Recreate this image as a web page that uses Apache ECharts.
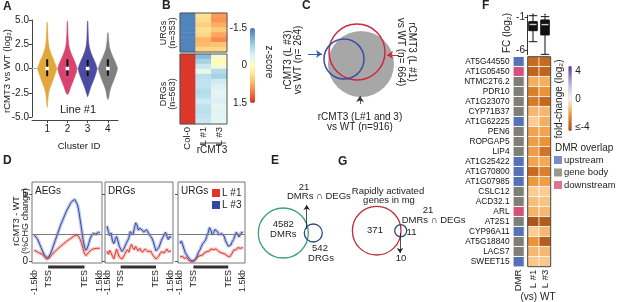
<!DOCTYPE html>
<html>
<head>
<meta charset="utf-8">
<script src="https://cdn.jsdelivr.net/npm/echarts@6/dist/echarts.min.js"></script>
<style>
html,body{margin:0;padding:0;background:#fff;}
#main{width:617px;height:302px;}
</style>
</head>
<body>
<div id="main"></div>
<script>
var FONT = '"Liberation Sans", Arial, Helvetica, sans-serif';

/* A - violin */
var clusterIds = [1, 2, 3, 4];
var violinLevels = [-5, -4.5, -4, -3.5, -3, -2.5, -2, -1.5, -1, -0.5, 0, 0.5, 1, 1.5, 2, 2.5, 3, 3.5, 4, 4.5, 5];
var violinDens1 = [0, 0, 0.03, 0.06, 0.1, 0.17, 0.3, 0.5, 0.68, 0.86, 1.0, 0.84, 0.64, 0.42, 0.25, 0.15, 0.1, 0.08, 0.06, 0.04, 0];
var violinDens2 = [0, 0, 0, 0, 0, 0.15, 0.32, 0.52, 0.72, 0.9, 1.0, 0.86, 0.64, 0.42, 0.24, 0.14, 0.1, 0.07, 0.05, 0.04, 0];
var violinDens3 = [0, 0, 0, 0, 0, 0.14, 0.3, 0.5, 0.7, 0.88, 0.98, 0.84, 0.62, 0.4, 0.23, 0.13, 0.09, 0.07, 0.05, 0.04, 0];
var violinDens4 = [0, 0, 0, 0.05, 0.09, 0.17, 0.3, 0.5, 0.7, 0.88, 1.0, 0.85, 0.62, 0.4, 0.22, 0.13, 0.08, 0.05, 0, 0, 0];
var violinMin = [-4.0, -2.7, -2.9, -3.2];
var violinMax = [4.8, 4.9, 4.9, 3.7];
var boxQ1 = [-0.8, -0.75, -0.8, -0.75];
var boxMed = [0, 0, 0, 0];
var boxQ3 = [0.95, 0.95, 0.9, 0.95];

/* B - z-score heatmap */
var heatCols = ['Col-0', 'L #1', 'L #3'];
var urgCol0 = [-1.4, -1.4, -1.4, -1.4, -1.4, -1.4, -1.4, -1.4];
var urgL1 = [0.35, 0.4, 0.5, 0.4, 0.45, 0.7, 0.65, 0.45];
var urgL3 = [0.85, 0.9, 0.75, 0.55, 0.8, 0.95, 0.6, 0.45];
var drgCol0 = [1.45, 1.45, 1.45, 1.45, 1.45, 1.45, 1.45, 1.45, 1.45, 1.45, 1.45, 1.45, 1.45, 1.45];
var drgL1 = [-1.0, -0.8, -0.55, -0.25, -0.65, -0.6, -0.6, -0.7, -0.65, -0.5, -0.6, -0.65, -0.6, -0.55];
var drgL3 = [-0.15, 0.05, -0.1, -0.7, -0.8, -0.5, -0.4, -0.3, -0.35, -0.4, -0.3, -0.35, -0.35, -0.3];
var urgCount = 353, drgCount = 563;

/* C, E, G - venn circles [cx, cy, r] */
var vennC = [[61, 54, 33], [57, 42, 28], [44, 49, 20]];
var vennCCounts = [916, 664, 264];
var vennE = [[33.3, 33, 25], [63.3, 33, 9]];
var vennECounts = [4582, 542, 21];
var vennG = [[36.7, 30.7, 24.3], [60.7, 30.7, 6]];
var vennGCounts = [371, 11, 10, 21];

/* D - CHG profiles */
var profX = [3, 5, 7, 9, 11, 13, 15, 17, 19, 21, 23, 25, 27, 29, 31, 33, 35, 37, 39, 41, 43, 45, 47, 49,
             51, 53, 55, 57, 59, 61, 63, 65, 67, 69, 71, 73, 75, 77, 79, 81, 83, 85, 87, 89, 91, 93, 95, 97];
var profTicks = [3, 23, 75, 97];
var profTickLabels = ['-1.5kb', 'TSS', 'TES', '1.5kb'];
var geneBody = [23, 75];
var aegL1 = [0.8, 0.75, 0.7, 0.62, 0.58, 0.6, 0.5, 0.35, 0.22, 0.12, 0.12, 0.25, 0.38, 0.5, 0.62, 0.72, 0.82, 0.92, 1.0, 1.1, 1.2, 1.28, 1.37, 1.45,
             1.52, 1.6, 1.68, 1.75, 1.8, 1.9, 1.98, 1.95, 1.85, 1.6, 1.3, 0.9, 0.55, 0.4, 0.5, 0.65, 0.78, 0.85, 0.9, 0.92, 0.9, 0.95, 0.98, 0.95];
var aegL3 = [1.95, 1.85, 1.7, 1.5, 1.25, 1.0, 0.75, 0.52, 0.35, 0.25, 0.22, 0.35, 0.6, 0.9, 1.2, 1.5, 1.8, 2.1, 2.4, 2.7, 2.95, 3.2, 3.45, 3.7,
             3.9, 4.1, 4.3, 4.45, 4.55, 4.6, 4.5, 4.2, 3.7, 3.0, 2.3, 1.6, 1.05, 0.8, 0.95, 1.3, 1.65, 1.9, 2.05, 2.1, 2.0, 2.05, 2.15, 2.1];
var drgLineL1 = [0.75, 0.5, 0.8, 0.6, 0.35, 0.15, 0.5, 0.9, 0.6, 0.3, 0.2, 0.15, 0.3, 0.5, 0.7, 0.85, 0.65, 1.0, 1.25, 1.0, 0.85, 1.1, 0.9, 0.75,
                 0.95, 0.8, 0.65, 0.75, 0.9, 0.85, 0.7, 0.6, 0.75, 0.55, 0.4, 0.3, 0.15, 0.2, 0.35, 0.55, 0.7, 0.8, 0.6, 0.75, 0.9, 0.7, 0.8, 0.75];
var drgLineL3 = [2.6, 2.2, 1.9, 2.1, 1.5, 1.3, 1.6, 1.85, 1.5, 1.1, 0.9, 0.7, 0.85, 1.05, 1.3, 1.5, 1.7, 2.2, 2.3, 1.95, 2.4, 2.85, 2.7, 2.3,
                 2.45, 2.55, 2.3, 2.15, 2.2, 2.35, 2.25, 2.0, 1.85, 1.7, 1.45, 1.1, 0.75, 0.75, 1.0, 1.25, 1.55, 1.75, 1.95, 2.15, 1.85, 1.6, 1.85, 1.7];
var urgLineL1 = [0.3, 0.25, 0.35, 0.2, 0.15, 0.25, 0.1, 0.05, -0.05, -0.1, -0.05, 0.05, 0.15, 0.3, 0.25, 0.4, 0.5, 0.45, 0.6, 0.55, 0.7, 0.8, 0.75, 0.9,
                 1.0, 0.85, 0.75, 0.9, 0.8, 0.7, 0.75, 0.6, 0.65, 0.55, 0.45, 0.4, 0.35, 0.3, 0.45, 0.6, 0.8, 0.7, 0.85, 1.0, 0.9, 0.95, 1.05, 1.0];
var urgLineL3 = [1.3, 1.5, 1.55, 0.9, 0.6, 0.45, 0.3, 0.2, 0.05, -0.05, 0.0, 0.05, 0.2, 0.45, 0.7, 0.85, 1.1, 1.3, 1.2, 1.55, 1.85, 2.1, 2.5, 2.3,
                 1.95, 2.1, 2.35, 2.45, 2.2, 1.95, 1.9, 2.05, 2.15, 1.85, 1.5, 1.3, 1.1, 1.0, 1.2, 1.45, 1.6, 1.9, 2.15, 2.0, 1.8, 1.9, 2.15, 2.1];
var dRefLine = 2;

/* F - DMR genes */
var geneNames = ['AT5G44550', 'AT1G05450', 'NTMC2T6.2', 'PDR10', 'AT1G23070', 'CYP71B37', 'AT1G62225', 'PEN6', 'ROPGAP5', 'LIP4',
                 'AT1G25422', 'AT1G70800', 'AT1G07985', 'CSLC12', 'ACD32.1', 'ARL', 'AT2S1', 'CYP96A11', 'AT5G18840', 'LACS7', 'SWEET15'];
var dmrTypes = ['upstream', 'gene body', 'downstream'];
var dmrOverlap = [0, 2, 1, 1, 1, 1, 0, 1, 1, 1, 0, 0, 0, 1, 1, 2, 1, 0, 1, 1, 0];
var fcCols = ['L #1', 'L #3'];
var fcL1 = [-3.0, -3.3, -1.5, -2.5, -2.6, -1.3, -0.9, -1.7, -1.8, -1.8, -1.7, -3.0, -1.9, -0.9, -1.2, -1.4, -3.8, -0.9, -2.0, -1.3, -1.0];
var fcL3 = [-3.1, -3.3, -1.5, -2.0, -3.1, -1.3, -1.5, -1.7, -2.0, -2.8, -1.6, -2.5, -1.8, -0.9, -1.1, -1.3, -3.6, -1.3, -3.5, -1.3, -1.0];
var fcBox = [[-4.73, -3.05, -2.1, -1.67, -0.76], [-6.66, -3.7, -2.12, -1.41, -0.9]];
var fcOutliers = [[0, -0.55], [1, -0.6]];

/* colours */
var violinColors = ['#e2a73b', '#d8436f', '#4b4ba4', '#808080'];
var rdylbu = ['#4575b4', '#74add1', '#abd9e9', '#e0f3f8', '#ffffbf', '#fee090', '#fdae61', '#f46d43', '#d73027'];
var puor = ['#a0521c', '#c96b1f', '#eb9436', '#fbc88a', '#f6f1ea', '#dcd3ea', '#b4a5d3', '#8670b5', '#57378c'];
var dmrColors = ['#5672b5', '#7f7f78', '#d4517c'];
var RED = '#e0352b', BLUE = '#3347a0';

var grids = [], xAxes = [], yAxes = [], series = [];

function addGrid(g, x, y) {
    grids.push(g);
    x.gridIndex = grids.length - 1;
    y.gridIndex = grids.length - 1;
    xAxes.push(x);
    yAxes.push(y);
    return grids.length - 1;
}

function hiddenAxis(min, max, inverse) {
    return {type: 'value', min: min, max: max, show: false, inverse: !!inverse, axisLine: {onZero: false}};
}

function heatData(cols) {
    var out = [];
    cols.forEach(function (col, ci) {
        col.forEach(function (v, ri) { out.push([ci, ri, v]); });
    });
    return out;
}

function rowIds(n) {
    var r = [];
    for (var i = 0; i < n; i++) r.push('r' + i);
    return r;
}

/* outline around a grid */
function renderOutline(color) {
    return function (params, api) {
        var cs = params.coordSys;
        return {type: 'rect', shape: {x: cs.x, y: cs.y, width: cs.width, height: cs.height},
            style: {fill: 'none', stroke: color, lineWidth: 1}};
    };
}

function renderViolin(params, api) {
    var i = params.dataIndex;
    var cx = clusterIds[i];
    var dens = [violinDens1, violinDens2, violinDens3, violinDens4][i];
    var half = 0.47;
    var prof = [[violinMin[i], 0.01]];
    for (var k = 0; k < violinLevels.length; k++) {
        if (violinLevels[k] > violinMin[i] && violinLevels[k] < violinMax[i]) prof.push([violinLevels[k], dens[k]]);
    }
    prof.push([violinMax[i], 0.01]);
    var pts = [];
    for (k = 0; k < prof.length; k++) pts.push(api.coord([cx + prof[k][1] * half, prof[k][0]]));
    for (k = prof.length - 1; k >= 0; k--) pts.push(api.coord([cx - prof[k][1] * half, prof[k][0]]));
    var top = api.coord([cx, boxQ3[i]]), bot = api.coord([cx, boxQ1[i]]), med = api.coord([cx, boxMed[i]]);
    return {type: 'group', children: [
        {type: 'polygon', shape: {points: pts, smooth: 0.3}, style: {fill: violinColors[i], stroke: violinColors[i], lineWidth: 0.5}},
        {type: 'line', shape: {x1: top[0], y1: top[1], x2: bot[0], y2: bot[1]}, style: {stroke: '#111', lineWidth: 2}},
        {type: 'rect', shape: {x: med[0] - 1.8, y: med[1] - 1.8, width: 3.6, height: 3.6}, style: {fill: '#fff'}}
    ]};
}

function renderCircles(styles) {
    return function (params, api) {
        var c = api.coord([api.value(0), api.value(1)]);
        var r = api.size([api.value(2), 0])[0];
        return {type: 'circle', shape: {cx: c[0], cy: c[1], r: r}, style: styles[params.dataIndex]};
    };
}

function renderGeneBar(params, api) {
    var a = api.coord([api.value(0), 0]), b = api.coord([api.value(1), 0]);
    var cs = params.coordSys;
    return {type: 'rect', shape: {x: a[0], y: cs.y + cs.height + 2.5, width: b[0] - a[0], height: 3}, style: {fill: '#333'}};
}

/* ---------- A ---------- */
var gA = addGrid({left: 32, top: 20, width: 86, height: 97},
    {type: 'value', min: 0.25, max: 4.5, offset: 3, splitLine: {show: false},
        axisLine: {onZero: false, lineStyle: {color: '#444'}},
        axisTick: {customValues: clusterIds, length: 3, lineStyle: {color: '#444'}},
        axisLabel: {customValues: clusterIds, fontSize: 10, margin: 4, fontFamily: FONT, color: '#222'}},
    {type: 'value', min: -5, max: 5, interval: 2.5, splitLine: {show: false},
        axisLine: {show: true, onZero: false, lineStyle: {color: '#444'}},
        axisTick: {show: true, length: 3, lineStyle: {color: '#444'}},
        axisLabel: {fontSize: 10, margin: 3, fontFamily: FONT, color: '#222', formatter: function (v) { return v.toFixed(1); }}});
series.push({type: 'line', xAxisIndex: gA, yAxisIndex: gA, data: [[0.25, 0], [4.5, 0]], symbol: 'none',
    lineStyle: {color: '#b5b5b5', width: 1}, z: 1, silent: true});
series.push({type: 'custom', xAxisIndex: gA, yAxisIndex: gA, renderItem: renderViolin, clip: false, z: 3,
    data: clusterIds.map(function (c) { return [c, 0]; }), encode: {x: 0, y: 1}});

/* ---------- B ---------- */
var gBu = addGrid({left: 180, top: 13, width: 47, height: 39},
    {type: 'category', data: heatCols, show: false},
    {type: 'category', data: rowIds(urgCol0.length), inverse: true, show: false});
var gBd = addGrid({left: 180, top: 54, width: 47, height: 70},
    {type: 'category', data: heatCols, axisLine: {show: false}, axisTick: {show: false},
        axisLabel: {interval: 0, rotate: 90, fontSize: 9.5, margin: 3, fontFamily: FONT, color: '#222'}},
    {type: 'category', data: rowIds(drgCol0.length), inverse: true, show: false});
var gBc = addGrid({left: 250, top: 28, width: 5, height: 75},
    {type: 'value', show: false, min: 0, max: 1},
    {type: 'value', min: -1.5, max: 1.5, interval: 1.5, inverse: true, splitLine: {show: false},
        axisLine: {show: false}, axisTick: {show: false},
        axisLabel: {fontSize: 10, margin: 3, fontFamily: FONT, color: '#222', formatter: function (v) { return v === 0 ? '0' : v.toFixed(1); }}});
var sBu = series.length;
series.push({type: 'heatmap', xAxisIndex: gBu, yAxisIndex: gBu, silent: true, data: heatData([urgCol0, urgL1, urgL3])});
var sBd = series.length;
series.push({type: 'heatmap', xAxisIndex: gBd, yAxisIndex: gBd, silent: true, data: heatData([drgCol0, drgL1, drgL3])});
series.push({type: 'custom', xAxisIndex: gBu, yAxisIndex: gBu, renderItem: renderOutline('#555'), data: [[0, 0]], z: 5, clip: false});
series.push({type: 'custom', xAxisIndex: gBd, yAxisIndex: gBd, renderItem: renderOutline('#555'), data: [[0, 0]], z: 5, clip: false});

/* ---------- C ---------- */
var gC = addGrid({left: 300, top: 10, width: 120, height: 110}, hiddenAxis(0, 120), hiddenAxis(0, 110, true));
series.push({type: 'custom', xAxisIndex: gC, yAxisIndex: gC, clip: false, encode: {x: 0, y: 1},
    renderItem: renderCircles([
        {fill: '#a7a7a7'},
        {fill: 'none', stroke: '#d0283e', lineWidth: 1.5},
        {fill: 'none', stroke: '#3a4fa8', lineWidth: 1.5}
    ]), data: vennC});
series.push({type: 'lines', coordinateSystem: 'cartesian2d', xAxisIndex: gC, yAxisIndex: gC, silent: true,
    symbol: ['none', 'arrow'], symbolSize: 6, lineStyle: {width: 1.2, opacity: 1},
    data: [
        {coords: [[8, 44], [22, 44]], lineStyle: {color: '#3a5fb0'}},
        {coords: [[99, 45], [87, 45]], lineStyle: {color: '#d0283e'}},
        {coords: [[60, 94], [60, 86]], lineStyle: {color: '#333', width: 0.8}}
    ]});

/* ---------- D ---------- */
var dPanels = [
    {name: 'AEGs', left: 32, width: 70, l1: aegL1, l3: aegL3},
    {name: 'DRGs', left: 105, width: 68, l1: drgLineL1, l3: drgLineL3},
    {name: 'URGs', left: 178, width: 67, l1: urgLineL1, l3: urgLineL3}
];
dPanels.forEach(function (p, k) {
    var g = addGrid({left: p.left, top: 182, width: p.width, height: 81, show: true, borderColor: '#777', borderWidth: 1},
        {type: 'value', min: 0, max: 100, splitLine: {show: false}, axisLine: {show: false, onZero: false}, axisTick: {show: false},
            axisLabel: {customValues: profTicks, rotate: 90, fontSize: 9, margin: 7, fontFamily: FONT, color: '#222',
                formatter: function (v) { return profTickLabels[profTicks.indexOf(v)]; }}},
        {type: 'value', min: -0.15, max: 5.9, splitLine: {show: false}, axisLine: {show: false, onZero: false},
            axisTick: {show: true, customValues: [0, 5], length: 3, lineStyle: {color: '#555'}},
            axisLabel: {show: k === 0, customValues: [0, 5], fontSize: 10, margin: 4, fontFamily: FONT, color: '#222'}});
    function pts(arr) { return profX.map(function (x, i) { return [x, arr[i]]; }); }
    series.push({type: 'line', name: 'band1', xAxisIndex: g, yAxisIndex: g, data: pts(p.l1), symbol: 'none', silent: true,
        lineStyle: {color: '#f09a94', width: 3.5, opacity: 0.55}, z: 2});
    series.push({type: 'line', name: 'band3', xAxisIndex: g, yAxisIndex: g, data: pts(p.l3), symbol: 'none', silent: true,
        lineStyle: {color: '#95a3dc', width: 3.5, opacity: 0.6}, z: 2});
    series.push({type: 'line', name: 'L #1', color: RED, xAxisIndex: g, yAxisIndex: g, data: pts(p.l1), symbol: 'none', silent: true,
        lineStyle: {color: RED, width: 1}, z: 3});
    series.push({type: 'line', name: 'L #3', color: BLUE, xAxisIndex: g, yAxisIndex: g, data: pts(p.l3), symbol: 'none', silent: true,
        lineStyle: {color: BLUE, width: 1}, z: 3,
        markLine: {silent: true, symbol: 'none', label: {show: false}, lineStyle: {color: '#7a7a7a', width: 1, type: 'solid'},
            data: [{yAxis: dRefLine}]}});
    series.push({type: 'custom', xAxisIndex: g, yAxisIndex: g, renderItem: renderGeneBar, clip: false,
        data: [geneBody], encode: {x: [0, 1]}});
});

/* ---------- E ---------- */
var gE = addGrid({left: 250, top: 200, width: 80, height: 70}, hiddenAxis(0, 80), hiddenAxis(0, 70, true));
series.push({type: 'custom', xAxisIndex: gE, yAxisIndex: gE, clip: false, encode: {x: 0, y: 1},
    renderItem: renderCircles([
        {fill: 'none', stroke: '#3b9e7d', lineWidth: 1.3},
        {fill: 'none', stroke: '#2d4a7a', lineWidth: 1.3}
    ]), data: vennE});
series.push({type: 'lines', coordinateSystem: 'cartesian2d', xAxisIndex: gE, yAxisIndex: gE, silent: true,
    symbol: ['none', 'arrow'], symbolSize: 5, lineStyle: {width: 0.8, color: '#222', opacity: 1},
    data: [{coords: [[56.7, 29], [56.7, 5]]}]});

/* ---------- G ---------- */
var gG = addGrid({left: 340, top: 200, width: 80, height: 70}, hiddenAxis(0, 80), hiddenAxis(0, 70, true));
series.push({type: 'custom', xAxisIndex: gG, yAxisIndex: gG, clip: false, encode: {x: 0, y: 1},
    renderItem: renderCircles([
        {fill: 'none', stroke: '#bf2b3a', lineWidth: 1.3},
        {fill: 'none', stroke: '#2d4a7a', lineWidth: 1.3}
    ]), data: vennG});
series.push({type: 'lines', coordinateSystem: 'cartesian2d', xAxisIndex: gG, yAxisIndex: gG, silent: true,
    symbol: ['none', 'arrow'], symbolSize: 5, lineStyle: {width: 0.8, color: '#222', opacity: 1},
    data: [{coords: [[60, 33], [60, 53]]}]});

/* ---------- F ---------- */
var gFb = addGrid({left: 527, top: 15.3, width: 24, height: 39.3},
    {type: 'category', data: fcCols, show: false},
    {type: 'value', min: -6.7, max: -0.7, splitLine: {show: false},
        axisLine: {show: true, onZero: false, lineStyle: {color: '#333'}},
        axisTick: {show: true, customValues: [-6, -1], length: 2.5, lineStyle: {color: '#333'}},
        axisLabel: {customValues: [-6, -1], fontSize: 10, margin: 2, fontFamily: FONT, color: '#222'}});
series.push({type: 'boxplot', xAxisIndex: gFb, yAxisIndex: gFb, data: fcBox, boxWidth: [8.5, 8.5], silent: true,
    itemStyle: {color: '#111', borderColor: '#111', borderWidth: 1}});
series.push({type: 'scatter', xAxisIndex: gFb, yAxisIndex: gFb, data: fcBox.map(function (b, i) { return [i, b[2]]; }),
    symbol: 'rect', symbolSize: [7, 1.4], itemStyle: {color: '#fff'}, z: 5, silent: true});
series.push({type: 'scatter', xAxisIndex: gFb, yAxisIndex: gFb, data: fcOutliers, clip: false,
    symbol: 'circle', symbolSize: 1.8, itemStyle: {color: '#111'}, silent: true});

var gFd = addGrid({left: 513.3, top: 56.7, width: 10.7, height: 210},
    {type: 'category', data: ['DMR'], axisLine: {show: false}, axisTick: {show: false},
        axisLabel: {interval: 0, rotate: 90, fontSize: 9.5, margin: 3, fontFamily: FONT, color: '#222'}},
    {type: 'category', data: geneNames, inverse: true, axisLine: {show: false}, axisTick: {show: false},
        axisLabel: {interval: 0, fontSize: 8.3, margin: 3.8, fontFamily: FONT, color: '#111'}});
var gFh = addGrid({left: 527.7, top: 56.7, width: 23, height: 210},
    {type: 'category', data: fcCols, axisLine: {show: false}, axisTick: {show: false},
        axisLabel: {interval: 0, rotate: 90, fontSize: 9.5, margin: 3, fontFamily: FONT, color: '#222'}},
    {type: 'category', data: geneNames, inverse: true, show: false});
var gFc = addGrid({left: 568.3, top: 71, width: 3.5, height: 56},
    {type: 'value', show: false, min: 0, max: 1},
    {type: 'value', min: -4, max: 4, interval: 4, position: 'right', splitLine: {show: false},
        axisLine: {show: false}, axisTick: {show: false},
        axisLabel: {fontSize: 10, margin: 3.5, fontFamily: FONT, color: '#222', formatter: function (v) { return v === -4 ? '\u2264-4' : String(v); }}});

var sDmr = series.length;
series.push({type: 'heatmap', xAxisIndex: gFd, yAxisIndex: gFd, silent: true,
    data: dmrOverlap.map(function (t, i) { return [0, i, t]; }),
    itemStyle: {borderColor: '#fff', borderWidth: 1}});
var sFc = series.length;
series.push({type: 'heatmap', xAxisIndex: gFh, yAxisIndex: gFh, silent: true, data: heatData([fcL1, fcL3]),
    itemStyle: {borderColor: '#fff', borderWidth: 0.8}});
series.push({type: 'custom', xAxisIndex: gFh, yAxisIndex: gFh, renderItem: renderOutline('#444'), data: [[0, 0]], z: 5, clip: false});
dmrTypes.forEach(function (t, i) {
    series.push({type: 'scatter', name: t, color: dmrColors[i], xAxisIndex: gFd, yAxisIndex: gFd, data: []});
});

/* ---------- texts ---------- */
function label(x, y, text, size, opt) {
    opt = opt || {};
    return {type: 'text', x: x, y: y, rotation: opt.rot || 0, silent: true, z: 100,
        style: {text: text, fill: opt.color || '#222', font: (opt.bold ? 'bold ' : '') + size + 'px ' + FONT,
            align: opt.align || 'center', verticalAlign: 'middle', lineHeight: opt.lh || Math.round(size * 1.1)}};
}
var UP = Math.PI / 2, DOWN = -Math.PI / 2;
var texts = [
    label(3, 7, 'A', 12, {bold: true, align: 'left'}),
    label(162, 6, 'B', 12, {bold: true, align: 'left'}),
    label(302, 6, 'C', 12, {bold: true, align: 'left'}),
    label(3, 161, 'D', 12, {bold: true, align: 'left'}),
    label(271, 161, 'E', 12, {bold: true, align: 'left'}),
    label(482, 6, 'F', 12, {bold: true, align: 'left'}),
    label(338, 162, 'G', 12, {bold: true, align: 'left'}),

    label(7, 71, 'rCMT3 vs WT (log\u2082)', 9.5, {rot: UP}),
    label(79, 146, 'Cluster ID', 9.6),
    label(78, 110, 'Line #1', 11),

    label(168, 33, 'URGs\n(n=' + urgCount + ')', 9, {rot: UP, lh: 9}),
    label(168, 94, 'DRGs\n(n=' + drgCount + ')', 9, {rot: UP, lh: 9}),
    label(212, 150, 'rCMT3', 10),
    label(269, 62, 'z-score', 10, {rot: DOWN}),

    label(293, 60, 'rCMT3 (L #3)\nvs WT (n= ' + vennCCounts[2] + ')', 10, {rot: UP, lh: 10.5}),
    label(406, 52, 'rCMT3 (L #1)\nvs WT (n= ' + vennCCounts[1] + ')', 10, {rot: DOWN, lh: 10.5}),
    label(360, 117, 'rCMT3 (L#1 and 3)', 10),
    label(360, 127, 'vs WT (n=' + vennCCounts[0] + ')', 10),

    label(21, 221, 'rCMT3 - WT\n(%CHG change)', 9, {rot: UP, lh: 8.5}),
    label(35, 191, 'AEGs', 10, {align: 'left'}),
    label(108, 191, 'DRGs', 10, {align: 'left'}),
    label(181, 191, 'URGs', 10, {align: 'left'}),

    label(283.3, 224, String(vennECounts[0]), 9.5),
    label(283.3, 234.5, 'DMRs', 9.5),
    label(304, 187, String(vennECounts[2]), 9.5),
    label(287, 196, 'DMRs \u2229 DEGs', 9.5, {align: 'left'}),
    label(320, 248, String(vennECounts[1]), 9.5),
    label(321, 258.5, 'DRGs', 9.5),

    label(388, 191, 'Rapidly activated', 9.5),
    label(389, 200.5, 'genes in mg', 9.5),
    label(375, 230, String(vennGCounts[0]), 9.5),
    label(411.5, 232, String(vennGCounts[1]), 9.5),
    label(401, 258.5, String(vennGCounts[2]), 9.5),
    label(428, 210.5, String(vennGCounts[3]), 9.5),
    label(401.7, 220, 'DMRs \u2229 DEGs', 9.5, {align: 'left'}),

    label(507, 33, 'FC (log\u2082)', 10, {rot: UP}),
    label(559.5, 99, 'fold-change (log\u2082)', 10, {rot: UP}),
    label(555, 148.5, 'DMR overlap', 10, {align: 'left'}),
    label(538, 297, '(vs) WT', 10),
    {type: 'line', silent: true, shape: {x1: 200, y1: 143, x2: 226, y2: 143}, style: {stroke: '#333', lineWidth: 0.8}}
];

var option = {
    animation: false,
    grid: grids,
    xAxis: xAxes,
    yAxis: yAxes,
    visualMap: [
        {type: 'continuous', seriesIndex: [sBu, sBd], dimension: 2, min: -1.5, max: 1.5, inverse: true,
            orient: 'vertical', left: 250, top: 28, itemWidth: 5, itemHeight: 75, padding: 0,
            calculable: false, hoverLink: false, inRange: {color: rdylbu}},
        {type: 'piecewise', show: false, seriesIndex: sDmr, dimension: 2,
            pieces: [{value: 0, color: dmrColors[0]}, {value: 1, color: dmrColors[1]}, {value: 2, color: dmrColors[2]}]},
        {type: 'continuous', seriesIndex: sFc, dimension: 2, min: -4, max: 4,
            orient: 'vertical', left: 568.3, top: 66, itemWidth: 3.5, itemHeight: 65, padding: 0,
            calculable: false, hoverLink: false, inRange: {color: puor}}
    ],
    legend: [
        {data: [{name: 'L #1', icon: 'rect'}, {name: 'L #3', icon: 'rect'}], orient: 'vertical', left: 212, top: 188,
            itemWidth: 8, itemHeight: 8, itemGap: 2, padding: 0, selectedMode: false,
            textStyle: {fontSize: 10, fontFamily: FONT, color: '#222', padding: [0, 0, 0, -3]}},
        {data: dmrTypes.map(function (t) { return {name: t, icon: 'rect'}; }), orient: 'vertical', left: 554, top: 155,
            itemWidth: 8, itemHeight: 8, itemGap: 2.5, padding: 0, selectedMode: false,
            textStyle: {fontSize: 9.5, fontFamily: FONT, color: '#222', padding: [0, 0, 0, -3]}}
    ],
    graphic: texts,
    series: series
};

var chart = echarts.init(document.getElementById('main'));
chart.setOption(option);
</script>
</body>
</html>
